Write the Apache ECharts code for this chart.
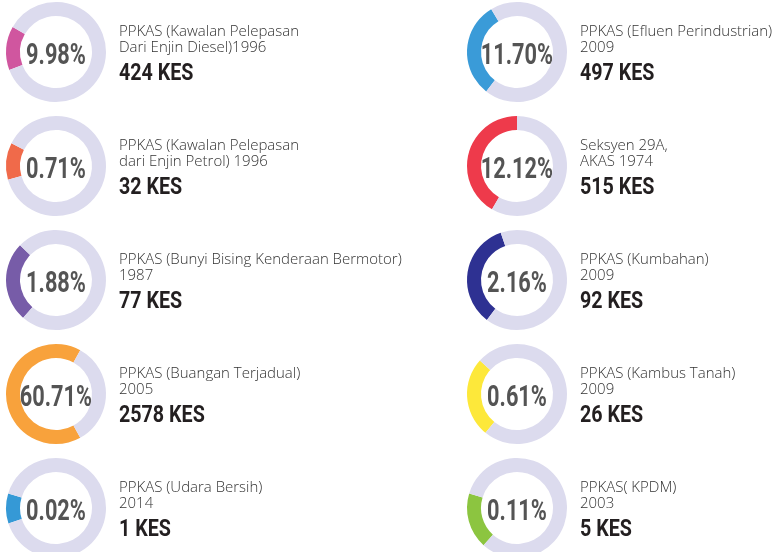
<!DOCTYPE html>
<html>
<head>
<meta charset="utf-8">
<script src="https://cdn.jsdelivr.net/npm/echarts@6/dist/echarts.min.js"></script>
<style>
  html, body { margin: 0; padding: 0; background: #ffffff; }
  #chart { width: 780px; height: 552px; }
</style>
</head>
<body>
<div id="chart"></div>
<script>
// Regulations: left column top to bottom, then right column top to bottom
const regulations = [
  'PPKAS (Kawalan Pelepasan\nDari Enjin Diesel)1996',
  'PPKAS (Kawalan Pelepasan\ndari Enjin Petrol) 1996',
  'PPKAS (Bunyi Bising Kenderaan Bermotor)\n1987',
  'PPKAS (Buangan Terjadual)\n2005',
  'PPKAS (Udara Bersih)\n2014',
  'PPKAS (Efluen Perindustrian)\n2009',
  'Seksyen 29A,\nAKAS 1974',
  'PPKAS (Kumbahan)\n2009',
  'PPKAS (Kambus Tanah)\n2009',
  'PPKAS( KPDM)\n2003'
];

// Number of cases per regulation
const caseCounts = [424, 32, 77, 2578, 1, 497, 515, 92, 26, 5];

// Share of all cases, in percent
const sharePct = ['9.98', '0.71', '1.88', '60.71', '0.02', '11.70', '12.12', '2.16', '0.61', '0.11'];

// Coloured arc of each ring: where it begins (degrees, counter-clockwise from 3 o'clock)
// and how far it sweeps counter-clockwise (degrees)
const arcStartDeg = [150, 153, 136, 61, 163, 121, 90, 109, 138, 163];
const arcSweepDeg = [51, 43, 93, 238, 35, 111, 150, 124, 93, 65];

const arcColors = ['#d0569f', '#f06a4a', '#775ca8', '#f8a23c', '#3599d6',
                   '#3a9bd8', '#ee3a4b', '#2e3192', '#fde83a', '#8cc540'];
const trackColor = '#dcdbee';

const condensed = "Roboto, 'DejaVu Sans', sans-serif";
const light = "'Open Sans', Lato, sans-serif";

const rowsPerCol = 5;
const colX = [56, 517];
const rowY0 = 52, rowStep = 114;
const outerR = 50, innerR = 36;

const series = [];
const graphics = [];

regulations.forEach(function (name, i) {
  const col = Math.floor(i / rowsPerCol);
  const row = i % rowsPerCol;
  const cx = colX[col];
  const cy = rowY0 + row * rowStep;

  series.push({
    type: 'pie',
    center: [cx, cy],
    radius: [innerR, outerR],
    startAngle: arcStartDeg[i],
    clockwise: false,
    silent: true,
    label: { show: false },
    labelLine: { show: false },
    emphasis: { disabled: true },
    data: [
      { value: arcSweepDeg[i], name: name, itemStyle: { color: arcColors[i] } },
      { value: 360 - arcSweepDeg[i], name: '', itemStyle: { color: trackColor } }
    ]
  });

  // share in the middle of the ring, narrowed to a condensed look
  graphics.push({
    type: 'text',
    x: cx,
    y: cy + 5,
    scaleX: 0.75,
    silent: true,
    style: {
      text: sharePct[i] + '%',
      x: 0,
      y: 0,
      align: 'center',
      verticalAlign: 'middle',
      fontFamily: condensed,
      fontWeight: 'bold',
      fontSize: 29,
      fill: '#545454'
    }
  });

  const tx = cx + 63;
  graphics.push({
    type: 'text',
    x: tx,
    y: cy - 28,
    scaleX: 1.07,
    silent: true,
    style: {
      text: name,
      x: 0,
      y: 0,
      fontFamily: light,
      fontWeight: 300,
      fontSize: 14,
      lineHeight: 16,
      fill: '#333333'
    }
  });
  graphics.push({
    type: 'text',
    x: tx,
    y: cy + 22,
    scaleX: 0.82,
    silent: true,
    style: {
      text: caseCounts[i] + ' KES',
      x: 0,
      y: 0,
      verticalAlign: 'middle',
      fontFamily: condensed,
      fontWeight: 'bold',
      fontSize: 24,
      fill: '#231f20'
    }
  });
});

const chart = echarts.init(document.getElementById('chart'));
chart.setOption({
  backgroundColor: '#ffffff',
  animation: false,
  series: series,
  graphic: graphics
});
</script>
</body>
</html>
